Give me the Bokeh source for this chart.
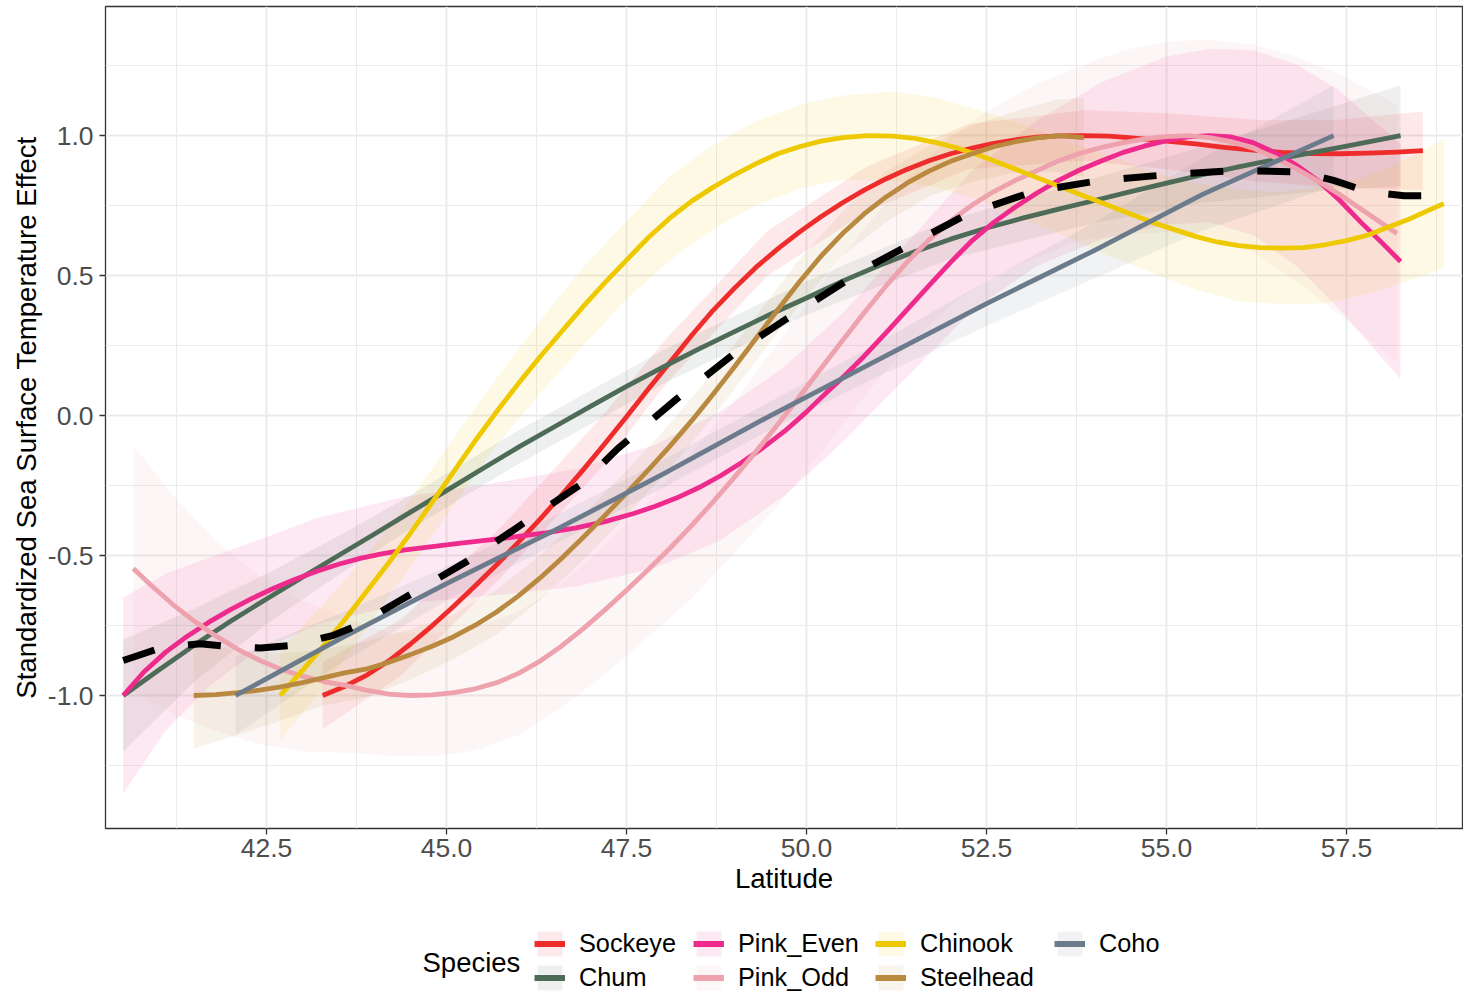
from bokeh.plotting import figure
from bokeh.layouts import column
from bokeh.models import (ColumnDataSource, FixedTicker, PrintfTickFormatter,
                          Legend, LegendItem, Label)
from bokeh.embed import file_html
from bokeh.resources import INLINE

FONT = "Liberation Sans"

# ---------------- data ----------------
species = ["Sockeye", "Chum", "Pink_Even", "Pink_Odd", "Chinook", "Steelhead", "Coho"]
colors = {"Sockeye": "#EE2C2C", "Chum": "#4E6B57", "Pink_Even": "#EE2A8C",
          "Pink_Odd": "#EEA2AD", "Chinook": "#EEC900", "Steelhead": "#B8893F",
          "Coho": "#6C7B8B"}

# fitted curves
sockeye_lat = [43.28, 43.6, 43.9, 44.2, 44.5, 44.8, 45.1, 45.4, 45.7, 46.0, 46.3, 46.6, 46.9,
               47.2, 47.5, 47.8, 48.1, 48.4, 48.7, 49.0, 49.3, 49.6, 49.9, 50.2, 50.5, 50.8,
               51.1, 51.4, 51.7, 52.0, 52.3, 52.6, 52.9, 53.2, 53.5, 53.85, 54.2, 54.6, 55.0,
               55.4, 55.8, 56.2, 56.6, 57.0, 57.4, 57.8, 58.2, 58.56]
sockeye_fit = [-1.00, -0.966, -0.926, -0.876, -0.816, -0.751, -0.681, -0.608, -0.532, -0.452,
               -0.37, -0.283, -0.193, -0.10, -0.004, 0.094, 0.189, 0.285, 0.375, 0.455, 0.53,
               0.595, 0.655, 0.71, 0.76, 0.805, 0.845, 0.88, 0.91, 0.935, 0.955, 0.972, 0.985,
               0.994, 0.999, 1.00, 0.998, 0.99, 0.98, 0.97, 0.958, 0.948, 0.94, 0.936, 0.935,
               0.937, 0.941, 0.946]

chum_lat = [40.51, 41.0, 41.5, 42.0, 42.5, 43.0, 43.5, 44.0, 44.5, 45.0, 45.5, 46.0, 46.5,
            47.0, 47.5, 48.0, 48.5, 49.0, 49.5, 50.0, 50.5, 51.0, 51.5, 52.0, 52.5, 53.0,
            53.5, 54.0, 54.5, 55.0, 55.5, 56.0, 56.5, 57.0, 57.5, 58.0, 58.25]
chum_fit = [-1.00, -0.91, -0.82, -0.735, -0.655, -0.577, -0.50, -0.423, -0.345, -0.268, -0.19,
            -0.113, -0.04, 0.033, 0.104, 0.172, 0.237, 0.30, 0.362, 0.42, 0.48, 0.535, 0.585,
            0.63, 0.67, 0.705, 0.737, 0.768, 0.80, 0.83, 0.86, 0.888, 0.914, 0.938, 0.962,
            0.987, 1.00]

pink_even_lat = [40.51, 40.8, 41.1, 41.4, 41.7, 42.0, 42.3, 42.6, 42.9, 43.2, 43.5, 43.8, 44.1,
                 44.4, 44.8, 45.2, 45.6, 46.0, 46.4, 46.8, 47.2, 47.6, 47.9, 48.2, 48.5, 48.8,
                 49.1, 49.4, 49.7, 50.0, 50.2, 50.5, 50.8, 51.1, 51.4, 51.7, 52.0, 52.3, 52.6,
                 52.9, 53.2, 53.5, 53.8, 54.1, 54.4, 54.7, 55.0, 55.3, 55.6, 55.9, 56.2, 56.5,
                 56.8, 57.1, 57.4, 57.7, 58.0, 58.25]
pink_even_fit = [-1.00, -0.915, -0.845, -0.788, -0.738, -0.693, -0.653, -0.617, -0.585, -0.556,
                 -0.531, -0.51, -0.494, -0.481, -0.468, -0.456, -0.444, -0.432, -0.418, -0.401,
                 -0.379, -0.35, -0.324, -0.294, -0.258, -0.216, -0.168, -0.114, -0.055, 0.013,
                 0.063, 0.135, 0.212, 0.294, 0.379, 0.464, 0.547, 0.625, 0.69, 0.745, 0.795,
                 0.84, 0.878, 0.91, 0.94, 0.963, 0.982, 0.995, 1.00, 0.995, 0.975, 0.94, 0.895,
                 0.84, 0.77, 0.69, 0.615, 0.55]

pink_odd_lat = [40.65, 40.9, 41.2, 41.5, 41.8, 42.1, 42.4, 42.7, 43.0, 43.3, 43.6, 43.9, 44.2,
                44.5, 44.8, 45.1, 45.4, 45.7, 46.0, 46.3, 46.6, 46.9, 47.2, 47.5, 47.8, 48.1,
                48.4, 48.7, 49.0, 49.3, 49.6, 49.9, 50.2, 50.5, 50.8, 51.1, 51.4, 51.7, 52.0,
                52.3, 52.6, 52.9, 53.2, 53.5, 53.8, 54.1, 54.4, 54.7, 55.0, 55.3, 55.6, 55.9,
                56.2, 56.5, 56.8, 57.1, 57.4, 57.7, 58.0, 58.2]
pink_odd_fit = [-0.546, -0.607, -0.675, -0.735, -0.788, -0.835, -0.874, -0.906, -0.931, -0.95,
                -0.964, -0.982, -0.995, -1.00, -0.998, -0.99, -0.976, -0.954, -0.921, -0.877,
                -0.823, -0.761, -0.694, -0.624, -0.551, -0.475, -0.394, -0.309, -0.22, -0.128,
                -0.032, 0.067, 0.168, 0.268, 0.367, 0.462, 0.549, 0.627, 0.695, 0.752, 0.80,
                0.84, 0.875, 0.91, 0.937, 0.958, 0.975, 0.988, 0.996, 1.00, 0.993, 0.978,
                0.955, 0.922, 0.882, 0.838, 0.79, 0.738, 0.685, 0.65]

chinook_lat = [42.69, 43.0, 43.3, 43.6, 43.9, 44.2, 44.5, 44.8, 45.1, 45.4, 45.7, 46.0, 46.3,
               46.6, 46.9, 47.2, 47.5, 47.8, 48.1, 48.4, 48.7, 49.0, 49.3, 49.6, 49.9, 50.2,
               50.5, 50.85, 51.2, 51.5, 51.8, 52.1, 52.4, 52.7, 53.0, 53.3, 53.6, 53.9, 54.2,
               54.5, 54.8, 55.1, 55.4, 55.7, 56.0, 56.3, 56.6, 56.9, 57.2, 57.5, 57.8, 58.1,
               58.4, 58.7, 58.85]
chinook_fit = [-1.00, -0.91, -0.82, -0.725, -0.625, -0.525, -0.42, -0.31, -0.20, -0.09, 0.015,
               0.115, 0.21, 0.30, 0.39, 0.475, 0.555, 0.635, 0.705, 0.765, 0.815, 0.86, 0.90,
               0.935, 0.96, 0.98, 0.993, 1.00, 0.998, 0.99, 0.975, 0.955, 0.93, 0.90, 0.87,
               0.84, 0.81, 0.78, 0.75, 0.72, 0.69, 0.665, 0.64, 0.62, 0.607, 0.60, 0.598,
               0.60, 0.61, 0.625, 0.645, 0.675, 0.705, 0.74, 0.757]

steelhead_lat = [41.49, 41.8, 42.1, 42.4, 42.7, 43.0, 43.3, 43.6, 43.9, 44.2, 44.5, 44.8, 45.1,
                 45.4, 45.7, 46.0, 46.3, 46.6, 46.9, 47.2, 47.5, 47.8, 48.1, 48.4, 48.7, 49.0,
                 49.3, 49.6, 49.9, 50.2, 50.5, 50.8, 51.1, 51.4, 51.7, 52.0, 52.3, 52.6, 52.9,
                 53.2, 53.5, 53.85]
steelhead_fit = [-1.00, -0.997, -0.99, -0.981, -0.969, -0.954, -0.936, -0.918, -0.905, -0.881,
                 -0.854, -0.824, -0.79, -0.749, -0.701, -0.644, -0.58, -0.51, -0.435, -0.357,
                 -0.277, -0.195, -0.11, -0.02, 0.075, 0.174, 0.276, 0.378, 0.477, 0.569, 0.65,
                 0.72, 0.78, 0.831, 0.873, 0.908, 0.935, 0.96, 0.978, 0.992, 1.00, 0.993]

coho_lat = [42.07, 43.5, 45.0, 46.5, 48.0, 49.5, 51.0, 52.5, 54.0, 55.5, 57.32]
coho_fit = [-1.00, -0.80, -0.60, -0.41, -0.21, 0.00, 0.20, 0.40, 0.59, 0.79, 1.00]

overall_lat = [40.51, 40.8, 41.03, 41.58, 41.96, 42.42, 42.88, 43.43, 43.76, 44.36, 45.29,
               45.98, 46.9, 47.37, 48.2, 48.99, 49.69, 50.85, 51.54, 52.24, 53.15, 54.08,
               55.0, 55.93, 56.86, 57.32, 57.79, 58.3, 58.8]
overall_fit = [-0.875, -0.85, -0.83, -0.815, -0.825, -0.83, -0.82, -0.785, -0.75, -0.66, -0.52,
               -0.40, -0.24, -0.12, 0.06, 0.22, 0.34, 0.53, 0.625, 0.72, 0.80, 0.84,
               0.86, 0.875, 0.87, 0.84, 0.80, 0.785, 0.786]

# confidence bands: centre and half-width at coarser latitudes
sockeye_band_lat = [43.28, 44.36, 45.75, 47.14, 48.07, 49.46, 50.85, 52.24, 53.85, 55.0,
                    56.26, 57.32, 58.56]
sockeye_band_mid = [-1.00, -0.83, -0.49, -0.10, 0.20, 0.58, 0.81, 0.96, 1.00, 0.98, 0.946,
                    0.935, 0.946]
sockeye_band_hw = [0.12, 0.10, 0.09, 0.09, 0.08, 0.08, 0.08, 0.08, 0.09, 0.10, 0.11, 0.12, 0.14]

chum_band_lat = [40.51, 41.5, 42.5, 43.5, 44.5, 46.0, 48.0, 50.0, 52.0, 54.0, 55.5, 57.0, 58.25]
chum_band_mid = [-1.00, -0.82, -0.655, -0.50, -0.345, -0.113, 0.172, 0.42, 0.63, 0.768, 0.86,
                 0.938, 1.00]
chum_band_hw = [0.20, 0.13, 0.09, 0.07, 0.06, 0.06, 0.06, 0.06, 0.07, 0.08, 0.10, 0.14, 0.18]

pink_even_band_lat = [40.51, 41.1, 41.7, 42.3, 43.2, 44.4, 45.6, 46.8, 47.9, 48.8, 49.7,
                      50.5, 51.4, 52.3, 53.2, 54.1, 55.0, 55.6, 56.2, 56.8, 57.4, 58.25]
pink_even_band_mid = [-1.00, -0.845, -0.738, -0.653, -0.556, -0.481, -0.444, -0.401, -0.324,
                      -0.216, -0.055, 0.135, 0.379, 0.625, 0.795, 0.91, 0.982, 1.00, 0.975,
                      0.895, 0.77, 0.55]
pink_even_band_hw = [0.35, 0.28, 0.23, 0.20, 0.19, 0.19, 0.20, 0.21, 0.22, 0.23, 0.23, 0.23,
                     0.24, 0.25, 0.26, 0.28, 0.30, 0.31, 0.33, 0.36, 0.39, 0.42]

pink_odd_band_lat = [40.65, 41.2, 41.8, 42.4, 43.0, 43.6, 44.2, 44.8, 45.4, 46.0, 46.6, 47.2,
                     47.8, 48.4, 49.0, 49.6, 50.2, 50.8, 51.4, 52.0, 52.6, 53.2, 53.8, 54.4,
                     55.0, 55.6, 56.2, 56.8, 57.4, 58.2]
pink_odd_band_mid = [-0.546, -0.675, -0.788, -0.874, -0.931, -0.964, -0.995, -0.998, -0.976,
                     -0.921, -0.823, -0.694, -0.551, -0.394, -0.22, -0.032, 0.168, 0.367,
                     0.549, 0.695, 0.80, 0.875, 0.937, 0.975, 0.996, 0.993, 0.955, 0.882,
                     0.79, 0.65]
pink_odd_band_hw = [0.44, 0.39, 0.34, 0.30, 0.27, 0.24, 0.22, 0.22, 0.22, 0.22, 0.22, 0.23,
                    0.24, 0.26, 0.27, 0.29, 0.30, 0.30, 0.30, 0.30, 0.30, 0.31, 0.31, 0.33,
                    0.34, 0.35, 0.37, 0.40, 0.43, 0.46]

chinook_band_lat = [42.69, 43.3, 43.9, 44.5, 45.1, 45.7, 46.3, 46.9, 47.5, 48.1, 48.7, 49.3,
                    49.9, 50.5, 51.2, 51.8, 52.4, 53.0, 53.6, 54.2, 54.8, 55.4, 56.0, 56.6,
                    57.2, 57.8, 58.4, 58.85]
chinook_band_mid = [-1.00, -0.82, -0.625, -0.42, -0.20, 0.015, 0.21, 0.39, 0.555, 0.705,
                    0.815, 0.90, 0.96, 0.993, 0.998, 0.975, 0.93, 0.87, 0.81, 0.75, 0.69,
                    0.64, 0.607, 0.598, 0.61, 0.645, 0.705, 0.757]
chinook_band_hw = [0.16, 0.15, 0.13, 0.12, 0.12, 0.12, 0.13, 0.14, 0.14, 0.15, 0.15, 0.15,
                   0.15, 0.15, 0.16, 0.16, 0.16, 0.17, 0.17, 0.18, 0.18, 0.19, 0.20, 0.20,
                   0.21, 0.21, 0.22, 0.23]

steelhead_band_lat = [41.49, 42.1, 42.7, 43.3, 43.9, 44.5, 45.1, 45.7, 46.3, 46.9, 47.5, 48.1,
                      48.7, 49.3, 49.9, 50.5, 51.1, 51.7, 52.3, 52.9, 53.5, 53.85]
steelhead_band_mid = [-1.00, -0.99, -0.969, -0.936, -0.905, -0.854, -0.79, -0.701, -0.58,
                      -0.435, -0.277, -0.11, 0.075, 0.276, 0.477, 0.65, 0.78, 0.873, 0.935,
                      0.978, 1.00, 0.993]
steelhead_band_hw = [0.19, 0.15, 0.12, 0.10, 0.10, 0.09, 0.08, 0.08, 0.08, 0.08, 0.08, 0.08,
                     0.08, 0.08, 0.08, 0.08, 0.09, 0.09, 0.10, 0.11, 0.13, 0.14]

coho_band_lat = coho_lat
coho_band_mid = coho_fit
coho_band_hw = [0.14, 0.09, 0.06, 0.05, 0.05, 0.05, 0.06, 0.08, 0.10, 0.13, 0.18]

x_ticks = [42.5, 45.0, 47.5, 50.0, 52.5, 55.0, 57.5]
x_minor = [41.25, 43.75, 46.25, 48.75, 51.25, 53.75, 56.25, 58.75]
y_ticks = [-1.0, -0.5, 0.0, 0.5, 1.0]
y_minor = [-1.25, -0.75, -0.25, 0.25, 0.75, 1.25]

legend_cols = [["Sockeye", "Chum"], ["Pink_Even", "Pink_Odd"], ["Chinook", "Steelhead"], ["Coho"]]
legend_title = "Species"

curves = {
    "Sockeye": (sockeye_lat, sockeye_fit),
    "Chum": (chum_lat, chum_fit),
    "Pink_Even": (pink_even_lat, pink_even_fit),
    "Pink_Odd": (pink_odd_lat, pink_odd_fit),
    "Chinook": (chinook_lat, chinook_fit),
    "Steelhead": (steelhead_lat, steelhead_fit),
    "Coho": (coho_lat, coho_fit),
}
bands = {
    "Sockeye": (sockeye_band_lat, sockeye_band_mid, sockeye_band_hw),
    "Chum": (chum_band_lat, chum_band_mid, chum_band_hw),
    "Pink_Even": (pink_even_band_lat, pink_even_band_mid, pink_even_band_hw),
    "Pink_Odd": (pink_odd_band_lat, pink_odd_band_mid, pink_odd_band_hw),
    "Chinook": (chinook_band_lat, chinook_band_mid, chinook_band_hw),
    "Steelhead": (steelhead_band_lat, steelhead_band_mid, steelhead_band_hw),
    "Coho": (coho_band_lat, coho_band_mid, coho_band_hw),
}

# ---------------- main figure ----------------
p = figure(width=1463, height=910, output_backend="svg", toolbar_location=None,
           x_range=(40.264, 59.11), y_range=(-1.475, 1.461),
           min_border_left=105, min_border_right=1, min_border_top=6,
           min_border_bottom=82)
p.background_fill_color = "white"
p.border_fill_color = "white"
p.outline_line_color = "#333333"
p.outline_line_width = 1.3

for sp in species:
    lat, mid, hw = bands[sp]
    src = ColumnDataSource(dict(x=lat, lo=[m - h for m, h in zip(mid, hw)],
                                hi=[m + h for m, h in zip(mid, hw)]))
    p.varea(x="x", y1="lo", y2="hi", source=src, fill_color=colors[sp], fill_alpha=0.1)

for sp in species:
    lat, fit = curves[sp]
    p.line(lat, fit, line_color=colors[sp], line_width=4.8, line_join="round")

p.line(overall_lat, overall_fit, line_color="black", line_width=7, line_dash="33 34")

for ax, ticks, minor in ((p.xaxis, x_ticks, x_minor), (p.yaxis, y_ticks, y_minor)):
    ax.ticker = FixedTicker(ticks=ticks, minor_ticks=minor)
    ax.formatter = PrintfTickFormatter(format="%.1f")
    ax.axis_line_color = None
    ax.major_tick_line_color = "#333333"
    ax.major_tick_line_width = 1.3
    ax.major_tick_out = 6
    ax.major_tick_in = 0
    ax.minor_tick_line_color = None
    ax.major_label_text_font = FONT
    ax.major_label_text_font_size = "26.5px"
    ax.major_label_text_color = "#4D4D4D"
    ax.axis_label_text_font = FONT
    ax.axis_label_text_font_size = "27.6px"
    ax.axis_label_text_font_style = "normal"
    ax.axis_label_text_color = "black"

p.xaxis.axis_label = "Latitude"
p.yaxis.axis_label = "Standardized Sea Surface Temperature Effect"
p.xaxis.major_label_standoff = 4
p.xaxis.axis_label_standoff = 3
p.yaxis.major_label_standoff = 6
p.yaxis.axis_label_standoff = 3

p.xgrid.ticker = FixedTicker(ticks=x_ticks, minor_ticks=x_minor)
p.ygrid.ticker = FixedTicker(ticks=y_ticks, minor_ticks=y_minor)
for g in (p.xgrid, p.ygrid):
    g.grid_line_color = "#EBEBEB"
    g.grid_line_width = 2
    g.minor_grid_line_color = "#EBEBEB"
    g.minor_grid_line_width = 1

# ---------------- legend strip (frame aligned with the main frame) ----------------
lf = figure(width=1463, height=84, output_backend="svg", toolbar_location=None,
            x_range=(0, 1), y_range=(0, 1),
            min_border_left=105, min_border_right=1, min_border_top=0, min_border_bottom=0)
lf.axis.visible = False
lf.grid.visible = False
lf.outline_line_color = None
lf.background_fill_color = "white"
lf.border_fill_color = "white"

FRAME_LEFT = 105
col_x = [534, 693, 875, 1054]
for names, cx in zip(legend_cols, col_x):
    items = []
    for sp in names:
        # key-only renderers, placed outside the (0,1) view so only their legend keys show
        ksrc = ColumnDataSource(dict(x=[5, 6], y=[5, 5], y2=[6, 6]))
        va = lf.varea(x="x", y1="y", y2="y2", source=ksrc, fill_color=colors[sp], fill_alpha=0.1)
        ln = lf.line(x="x", y="y", source=ksrc, line_color=colors[sp], line_width=6)
        items.append(LegendItem(label=sp, renderers=[va, ln]))
    bottom = 1 if len(names) == 2 else 35
    lg = Legend(items=items, location=(cx - FRAME_LEFT, bottom), orientation="vertical",
                padding=0, margin=0, spacing=3,
                glyph_width=31, glyph_height=31, label_height=31, label_standoff=14,
                label_text_font=FONT, label_text_font_size="25.3px", label_text_color="black",
                border_line_color=None, background_fill_alpha=0)
    lf.add_layout(lg, "center")

lf.add_layout(Label(x=422 - FRAME_LEFT, y=32, x_units="screen", y_units="screen",
                    text=legend_title, text_font=FONT, text_font_size="27.5px",
                    text_baseline="middle", text_color="black"))

layout = column(p, lf, spacing=0)
open("out.html", "w").write(file_html(layout, INLINE))
